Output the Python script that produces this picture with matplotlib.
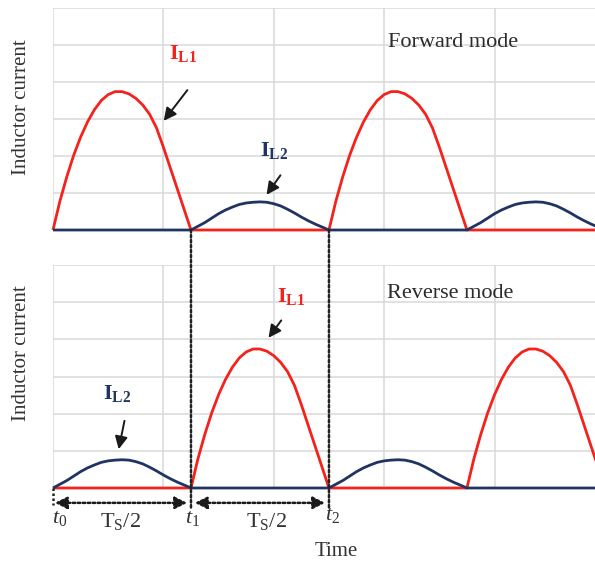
import matplotlib
matplotlib.use("Agg")
import matplotlib.pyplot as plt
from matplotlib.patches import ConnectionPatch
import numpy as np

plt.rcParams['font.family'] = ['Liberation Serif', 'DejaVu Serif']
plt.rcParams['mathtext.fontset'] = 'custom'
plt.rcParams['mathtext.rm'] = 'Liberation Serif'
plt.rcParams['mathtext.it'] = 'Liberation Serif:italic'
plt.rcParams['mathtext.bf'] = 'Liberation Serif:bold'

# ---- data ----
half_period = 5.0
arch_x = [0, 0.25, 0.5, 0.75, 1.0, 1.25, 1.5, 1.75, 2.0, 2.25, 2.5,
          2.75, 3.0, 3.25, 3.5, 3.75, 4.0, 4.25, 4.5, 4.75, 5.0]
il_big_arch = [0, 0.78, 1.44, 2.02, 2.51, 2.92, 3.25, 3.50, 3.66, 3.74, 3.74,
               3.68, 3.56, 3.38, 3.13, 2.76, 2.24, 1.68, 1.12, 0.56, 0]
il_small_arch = [0, 0.10, 0.20, 0.32, 0.44, 0.54, 0.62, 0.69, 0.73, 0.75, 0.76,
                 0.75, 0.71, 0.65, 0.56, 0.46, 0.35, 0.25, 0.16, 0.08, 0]
fwd_il1_active = [True, False, True, False]
fwd_il2_active = [False, True, False, True]
rev_il1_active = [False, True, False, True]
rev_il2_active = [True, False, True, False]
mode_labels = ["Forward mode", "Reverse mode"]
y_label = "Inductor current"
x_label = "Time"

RED = '#f5221b'
NAVY = '#1f3462'


def build(shape, active):
    t, y = [], []
    for k, a in enumerate(active):
        t.extend(np.array(arch_x) + k * half_period)
        y.extend(shape if a else [0] * len(shape))
    return np.array(t), np.array(y)


W, H = 595, 565
fig = plt.figure(figsize=(W / 100, H / 100), dpi=100)
ax1 = fig.add_axes([53 / W, (H - 230) / H, 1 - 53 / W, 222 / H])
ax2 = fig.add_axes([53 / W, (H - 488) / H, 1 - 53 / W, 223 / H])

for ax, a1, a2 in [(ax1, fwd_il1_active, fwd_il2_active), (ax2, rev_il1_active, rev_il2_active)]:
    ax.set_xlim(0, 19.64)
    ax.set_ylim(0, 6)
    ax.set_xticks([0, 4, 8, 12, 16])
    ax.set_yticks([0, 1, 2, 3, 4, 5, 6])
    ax.tick_params(length=0, labelbottom=False, labelleft=False)
    ax.grid(True, color='#d9d9d9', lw=1.1)
    ax.set_axisbelow(True)
    for s in ax.spines.values():
        s.set_visible(False)
    t1, y1 = build(il_big_arch, a1)
    t2, y2 = build(il_small_arch, a2)
    ax.plot(t1, y1, color=RED, lw=2.0, clip_on=False, solid_capstyle='butt', solid_joinstyle='round')
    ax.plot(t2, y2, color=NAVY, lw=2.0, clip_on=False, solid_capstyle='butt', solid_joinstyle='round')

arrow_kw = dict(arrowstyle='-|>', color='#1a1a1a', lw=1.4, mutation_scale=19)

# top panel annotations
ax1.text(4.71, 4.76, r'$\mathbf{I_{L1}}$', color=RED, fontsize=16, ha='center', va='center')
ax1.annotate('', xy=(3.95, 2.89), xytext=(4.93, 3.84), arrowprops=arrow_kw)
ax1.text(8.0, 2.16, r'$\mathbf{I_{L2}}$', color=NAVY, fontsize=16, ha='center', va='center')
ax1.annotate('', xy=(7.68, 0.89), xytext=(8.30, 1.54), arrowprops=arrow_kw)
ax1.text(14.49, 5.08, mode_labels[0], fontsize=16, color='#2b2b2b', ha='center', va='center')

# bottom panel annotations
ax2.text(2.32, 2.53, r'$\mathbf{I_{L2}}$', color=NAVY, fontsize=16, ha='center', va='center')
ax2.annotate('', xy=(2.36, 0.97), xytext=(2.61, 1.88), arrowprops=arrow_kw)
ax2.text(8.62, 5.16, r'$\mathbf{I_{L1}}$', color=RED, fontsize=16, ha='center', va='center')
ax2.annotate('', xy=(7.75, 3.98), xytext=(8.33, 4.57), arrowprops=arrow_kw)
ax2.text(14.38, 5.24, mode_labels[1], fontsize=16, color='#2b2b2b', ha='center', va='center')

# vertical dotted lines
for xv in [5.0, 10.0]:
    cp = ConnectionPatch(xyA=(xv, 0), coordsA=ax1.transData, xyB=(xv, -0.54), coordsB=ax2.transData,
                         linestyle=(0, (1, 1)), lw=1.8, color='#222222')
    fig.add_artist(cp)
ax2.plot([0, 0], [0, -0.45], linestyle=(0, (1, 1)), lw=1.8, color='#222222', clip_on=False)

# double arrows
dbl_kw = dict(arrowstyle='<|-|>', color='#1a1a1a', lw=1.8, linestyle=(0, (1, 1)), mutation_scale=18,
              shrinkA=0, shrinkB=0)
ax2.annotate('', xy=(4.86, -0.40), xytext=(0.07, -0.40), arrowprops=dbl_kw, annotation_clip=False)
ax2.annotate('', xy=(9.86, -0.40), xytext=(5.14, -0.40), arrowprops=dbl_kw, annotation_clip=False)

ax2.text(0.25, -0.81, r'$\mathit{t_0}$', fontsize=16, ha='center', va='center', color='#333333')
ax2.text(5.07, -0.81, r'$\mathit{t_1}$', fontsize=16, ha='center', va='center', color='#333333')
ax2.text(10.14, -0.75, r'$\mathit{t_2}$', fontsize=16, ha='center', va='center', color='#333333')
ax2.text(2.46, -0.89, r'$\mathrm{T_S/2}$', fontsize=16, ha='center', va='center', color='#333333')
ax2.text(7.72, -0.89, r'$\mathrm{T_S/2}$', fontsize=16, ha='center', va='center', color='#333333')
ax2.text(10.25, -1.72, x_label, fontsize=15, ha='center', va='center', color='#333333')

fig.text(22 / W, 1 - 107 / H, y_label, rotation=90, fontsize=15, ha='center', va='center', color='#333333')
fig.text(22 / W, 1 - 353 / H, y_label, rotation=90, fontsize=15, ha='center', va='center', color='#333333')

fig.savefig('out.png', dpi=100)
